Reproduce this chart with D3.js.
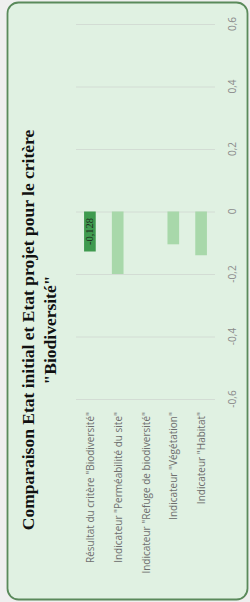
<!DOCTYPE html>
<html>
<head>
<meta charset="utf-8">
<script src="https://cdn.jsdelivr.net/npm/d3@7"></script>
<style>
  html, body { margin: 0; padding: 0; background: #efefef; }
  svg { display: block; }
</style>
</head>
<body>
<svg width="250" height="602"></svg>
<script>
// data
var categories = [
  "Résultat du critère \"Biodiversité\"",
  "Indicateur \"Perméabilité du site\"",
  "Indicateur \"Refuge de biodiversité\"",
  "Indicateur \"Végétation\"",
  "Indicateur \"Habitat\""
];
var values = [-0.128, -0.2, 0, -0.105, -0.14];
var tickValues = [-0.6, -0.4, -0.2, 0, 0.2, 0.4, 0.6];
var titleLines = ["Comparaison Etat initial et Etat projet pour le critère", "\"Biodiversité\""];
var labelledBars = [0];   // only the first bar carries its value

var svg = d3.select("svg");
var width = +svg.attr("width");
var height = +svg.attr("height");

var fr = d3.formatLocale({decimal: ",", thousands: " ", grouping: [3], currency: ["", " €"], minus: "-"});
var tickFmt = fr.format(".1~f");
var valFmt = fr.format(".3f");

// frame
svg.append("rect")
  .attr("x", 7.5).attr("y", 2.5)
  .attr("width", 240).attr("height", 597)
  .attr("rx", 11).attr("ry", 11)
  .attr("fill", "#e0f1e2")
  .attr("stroke", "#5a8a5b")
  .attr("stroke-width", 1.8);

// the chart is turned a quarter turn: values run up the page
var y = d3.scaleLinear().domain([-0.6, 0.6]).range([399, 24]);
var x = d3.scaleBand().domain(categories).range([76, 215])
  .paddingInner(0.58).paddingOuter(0.29);

// grid lines
svg.append("g")
  .selectAll("line")
  .data(tickValues)
  .enter()
  .append("line")
  .attr("x1", x.range()[0])
  .attr("x2", x.range()[1])
  .attr("y1", function(d) { return y(d) + 0.5; })
  .attr("y2", function(d) { return y(d) + 0.5; })
  .attr("stroke", "#d3dcd4")
  .attr("stroke-width", 1);

// tick labels
svg.append("g")
  .selectAll("text")
  .data(tickValues)
  .enter()
  .append("text")
  .attr("transform", function(d) { return "translate(232," + y(d) + ") rotate(-90)"; })
  .attr("text-anchor", "middle")
  .attr("dominant-baseline", "central")
  .style("font-family", "'Open Sans', sans-serif")
  .style("font-size", "10px")
  .style("fill", "#8a8a8a")
  .text(tickFmt);

// bars
svg.append("g")
  .selectAll("rect")
  .data(values)
  .enter()
  .append("rect")
  .attr("x", function(d, i) { return x(categories[i]); })
  .attr("width", x.bandwidth())
  .attr("y", function(d) { return y(Math.max(0, d)); })
  .attr("height", function(d) { return Math.abs(y(d) - y(0)); })
  .attr("fill", function(d, i) { return i === 0 ? "#3f9a4f" : "#a8d8aa"; });

// value label
svg.append("g")
  .selectAll("text")
  .data(labelledBars)
  .enter()
  .append("text")
  .attr("transform", function(i) {
    var cx = x(categories[i]) + x.bandwidth() / 2;
    var cy = (y(0) + y(values[i])) / 2;
    return "translate(" + cx + "," + cy + ") rotate(-90)";
  })
  .attr("text-anchor", "middle")
  .attr("dominant-baseline", "central")
  .style("font-family", "'Liberation Serif', serif")
  .style("font-size", "10.5px")
  .style("fill", "#1c2b1c")
  .text(function(i) { return valFmt(values[i]); });

// category labels
svg.append("g")
  .selectAll("text")
  .data(categories)
  .enter()
  .append("text")
  .attr("transform", function(d) {
    return "translate(" + (x(d) + x.bandwidth() / 2) + ",412) rotate(-90)";
  })
  .attr("text-anchor", "end")
  .attr("dominant-baseline", "central")
  .style("font-family", "'Open Sans', sans-serif")
  .style("font-size", "10px")
  .style("fill", "#6e6e6e")
  .text(function(d) { return d; });

// title
svg.append("g")
  .selectAll("text")
  .data(titleLines)
  .enter()
  .append("text")
  .attr("transform", function(d, i) { return "translate(" + (28 + i * 22) + ",330) rotate(-90)"; })
  .attr("text-anchor", "middle")
  .attr("dominant-baseline", "central")
  .style("font-family", "'Liberation Serif', 'Times New Roman', serif")
  .style("font-weight", "bold")
  .style("font-size", "17.5px")
  .style("fill", "#111")
  .text(function(d) { return d; });
</script>
</body>
</html>
